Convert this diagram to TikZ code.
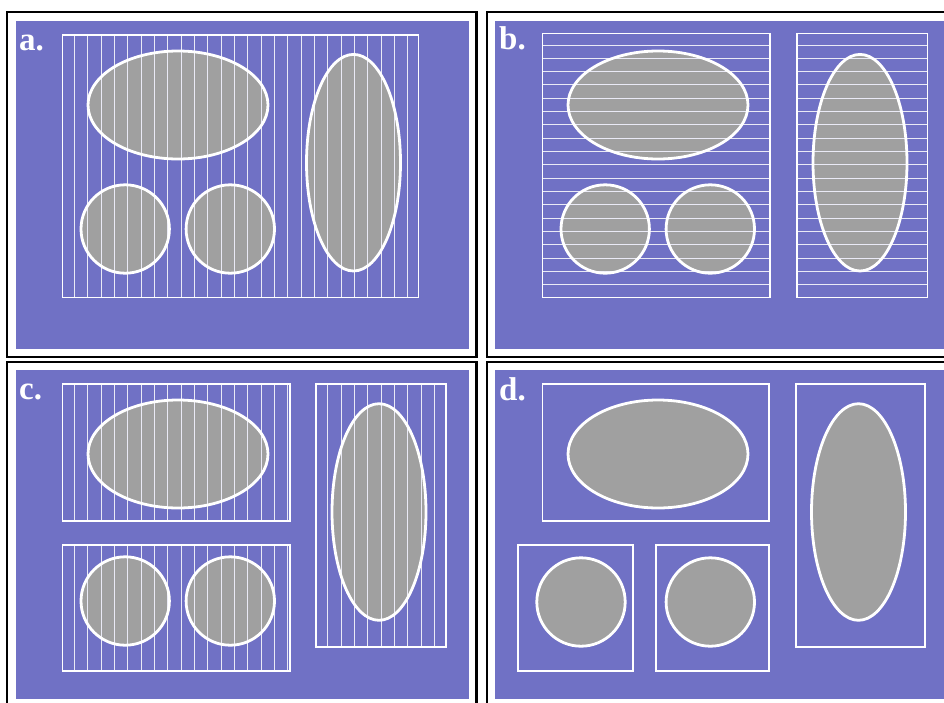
\documentclass[tikz,border=0pt]{standalone}
\usepackage{fontspec}
\setmainfont{Liberation Serif}
\definecolor{pblue}{RGB}{112,113,197}
\definecolor{pgray}{RGB}{160,160,160}
\tikzset{
  bluebg/.style={fill=pblue},
  framebox/.style={draw=black,line width=2.2pt},
  gridbox/.style={draw=white,line width=1.1pt},
  gridln/.style={draw=white!85!pblue,line width=1pt},
  blobfill/.style={fill=pgray},
  blobline/.style={draw=white,line width=2.8pt},
  lab/.style={text=white,font=\fontsize{33}{33}\selectfont\bfseries,anchor=base west,inner sep=0pt}
}
\begin{document}
\begin{tikzpicture}[x=1pt,y=-1pt]
\useasboundingbox (0,0) rectangle (944,702);
\fill[white] (0,0) rectangle (944,702);
% frames
\draw[framebox] (7,12) rectangle (476.5,357);
\draw[framebox] (487,12) rectangle (950,357);
\draw[framebox] (7,362) rectangle (476.5,710);
\draw[framebox] (487,362) rectangle (950,710);
% blue backgrounds
\fill[bluebg] (16,21) rectangle (469,349);
\fill[bluebg] (495,21) rectangle (944,349);
\fill[bluebg] (16,370) rectangle (469,699);
\fill[bluebg] (495,370) rectangle (944,699);
% ---------- panel a ----------
\fill[blobfill] (178,105) ellipse [x radius=90,y radius=54];
\fill[blobfill] (125.2,229) circle [radius=44.2];
\fill[blobfill] (230.3,229) circle [radius=44.2];
\fill[blobfill] (353.5,162.7) ellipse [x radius=47,y radius=108.3];
\foreach \i in {0,...,25}{\draw[gridln] (74.33+13.336*\i,35) -- (74.33+13.336*\i,297.3);}
\draw[gridbox] (62.7,35) rectangle (418.8,297.3);
\draw[blobline] (178,105) ellipse [x radius=90,y radius=54];
\draw[blobline] (125.2,229) circle [radius=44.2];
\draw[blobline] (230.3,229) circle [radius=44.2];
\draw[blobline] (353.5,162.7) ellipse [x radius=47,y radius=108.3];
\node[lab] (la) at (19,50) {a.};
% ---------- panel b ----------
\fill[blobfill] (658,105) ellipse [x radius=90,y radius=54];
\fill[blobfill] (605.2,229) circle [radius=44.2];
\fill[blobfill] (710.3,229) circle [radius=44.2];
\fill[blobfill] (860,162.7) ellipse [x radius=47,y radius=108.3];
\foreach \i in {0,...,18}{
  \draw[gridln] (542.7,45+13.33*\i) -- (770,45+13.33*\i);
  \draw[gridln] (797,45+13.33*\i) -- (927.3,45+13.33*\i);}
\draw[gridbox] (542.7,33.5) rectangle (770,297.3);
\draw[gridbox] (797,33.5) rectangle (927.3,297.3);
\draw[blobline] (658,105) ellipse [x radius=90,y radius=54];
\draw[blobline] (605.2,229) circle [radius=44.2];
\draw[blobline] (710.3,229) circle [radius=44.2];
\draw[blobline] (860,162.7) ellipse [x radius=47,y radius=108.3];
\node[lab] (lb) at (499,49) {b.};
% ---------- panel c ----------
\fill[blobfill] (178,454) ellipse [x radius=90,y radius=54];
\fill[blobfill] (125.2,601) circle [radius=44.2];
\fill[blobfill] (230.3,601) circle [radius=44.2];
\fill[blobfill] (379,512) ellipse [x radius=47,y radius=108.3];
\foreach \i in {0,...,16}{
  \draw[gridln] (74.33+13.336*\i,384) -- (74.33+13.336*\i,521);
  \draw[gridln] (74.33+13.336*\i,545) -- (74.33+13.336*\i,671);}
\foreach \i in {19,...,27}{\draw[gridln] (74.33+13.336*\i,384) -- (74.33+13.336*\i,647);}
\draw[gridbox] (62.7,384) rectangle (290,521);
\draw[gridbox] (62.7,545) rectangle (290,671);
\draw[gridbox] (316,384) rectangle (446,647);
\draw[blobline] (178,454) ellipse [x radius=90,y radius=54];
\draw[blobline] (125.2,601) circle [radius=44.2];
\draw[blobline] (230.3,601) circle [radius=44.2];
\draw[blobline] (379,512) ellipse [x radius=47,y radius=108.3];
\node[lab] (lc) at (19,399) {c.};
% ---------- panel d ----------
\fill[blobfill] (658,454) ellipse [x radius=90,y radius=54];
\fill[blobfill] (581,602) circle [radius=44.2];
\fill[blobfill] (710.3,602) circle [radius=44.2];
\fill[blobfill] (858.5,512) ellipse [x radius=47,y radius=108.3];
\draw[gridbox] (542.7,384) rectangle (769,521);
\draw[gridbox] (518,545) rectangle (633,671);
\draw[gridbox] (656,545) rectangle (769,671);
\draw[gridbox] (796,384) rectangle (925,647);
\draw[blobline] (658,454) ellipse [x radius=90,y radius=54];
\draw[blobline] (581,602) circle [radius=44.2];
\draw[blobline] (710.3,602) circle [radius=44.2];
\draw[blobline] (858.5,512) ellipse [x radius=47,y radius=108.3];
\node[lab] (ld) at (499,400) {d.};
\end{tikzpicture}
\end{document}
